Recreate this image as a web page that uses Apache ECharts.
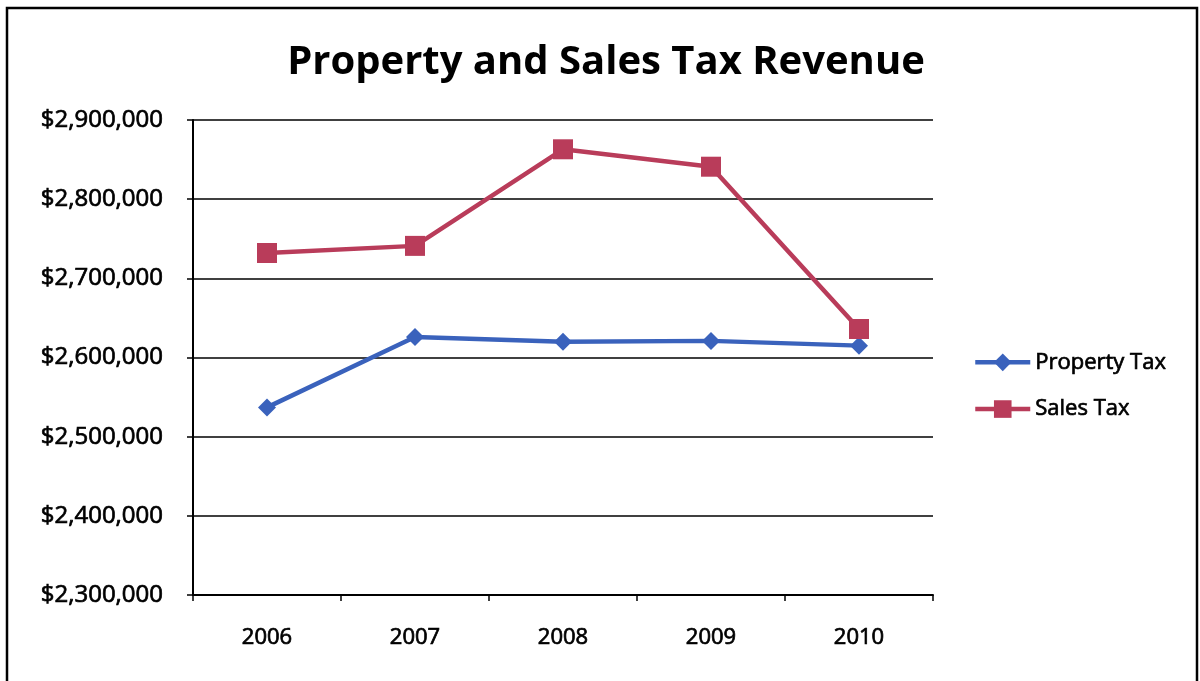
<!DOCTYPE html>
<html>
<head>
<meta charset="utf-8">
<title>Property and Sales Tax Revenue</title>
<script src="https://cdn.jsdelivr.net/npm/echarts@6/dist/echarts.min.js"></script>
<style>
  html, body { margin: 0; padding: 0; background: #ffffff; }
  #chart { width: 1200px; height: 681px; }
</style>
</head>
<body>
<div id="chart"></div>
<script>
// Revenue by year, in dollars
const years = ['2006', '2007', '2008', '2009', '2010'];
const propertyTax = [2537000, 2626000, 2620000, 2621000, 2615000];
const salesTax = [2732000, 2741000, 2863000, 2841000, 2636000];
const yMin = 2300000;
const yMax = 2900000;
const yStep = 100000;

const FONT = '"Open Sans", "DejaVu Sans", sans-serif';
const BLUE = '#3A62BC';
const RED = '#B93C5A';
// a thin outline in the text colour gives the labels a slightly heavier stroke
const HEAVY = { textBorderColor: '#000000', textBorderWidth: 0.7 };

function dollars(v) {
  return '$' + Math.round(v).toString().replace(/\B(?=(\d{3})+(?!\d))/g, ',');
}

const chart = echarts.init(document.getElementById('chart'), null, { renderer: 'canvas' });

chart.setOption({
  backgroundColor: '#ffffff',
  animation: false,
  title: {
    text: 'Property and Sales Tax Revenue',
    left: 601,
    textAlign: 'center',
    top: 38,
    textStyle: { fontFamily: FONT, fontWeight: 'bold', fontSize: 40, color: '#000000' }
  },
  graphic: [{
    type: 'rect',
    shape: { x: 7, y: 8, width: 1190, height: 690 },
    style: { fill: 'none', stroke: '#000000', lineWidth: 2.5 },
    silent: true
  }],
  legend: {
    orient: 'vertical',
    left: 968,
    top: 346,
    itemWidth: 55,
    itemHeight: 22,
    itemGap: 24,
    textStyle: Object.assign({ fontFamily: FONT, fontSize: 22, color: '#000000', lineHeight: 22 }, HEAVY),
    data: [
      { name: 'Property Tax', lineStyle: { width: 4.5, color: BLUE } },
      { name: 'Sales Tax', lineStyle: { width: 4.5, color: RED } }
    ]
  },
  grid: { left: 193, right: 267, top: 120, bottom: 86, containLabel: false },
  xAxis: {
    type: 'category',
    data: years,
    boundaryGap: true,
    axisLine: { lineStyle: { color: '#000000', width: 2 } },
    axisTick: { show: true, length: 6, lineStyle: { color: '#000000', width: 1.5 } },
    axisLabel: Object.assign({ margin: 32, fontFamily: FONT, fontSize: 22, color: '#000000' }, HEAVY)
  },
  yAxis: {
    type: 'value',
    min: yMin,
    max: yMax,
    interval: yStep,
    axisLine: { show: true, lineStyle: { color: '#000000', width: 2 } },
    axisTick: { show: true, length: 6, lineStyle: { color: '#000000', width: 1.5 } },
    splitLine: { show: true, lineStyle: { color: '#000000', width: 1.5 } },
    axisLabel: Object.assign({ margin: 30, fontFamily: FONT, fontSize: 24, color: '#000000', formatter: dollars }, HEAVY)
  },
  series: [
    {
      name: 'Property Tax',
      type: 'line',
      data: propertyTax,
      symbol: 'diamond',
      symbolSize: 18,
      lineStyle: { color: BLUE, width: 4.5 },
      itemStyle: { color: BLUE },
      z: 3
    },
    {
      name: 'Sales Tax',
      type: 'line',
      data: salesTax,
      symbol: 'rect',
      symbolSize: 20,
      lineStyle: { color: RED, width: 4.5 },
      itemStyle: { color: RED },
      z: 4
    }
  ]
});
</script>
</body>
</html>
